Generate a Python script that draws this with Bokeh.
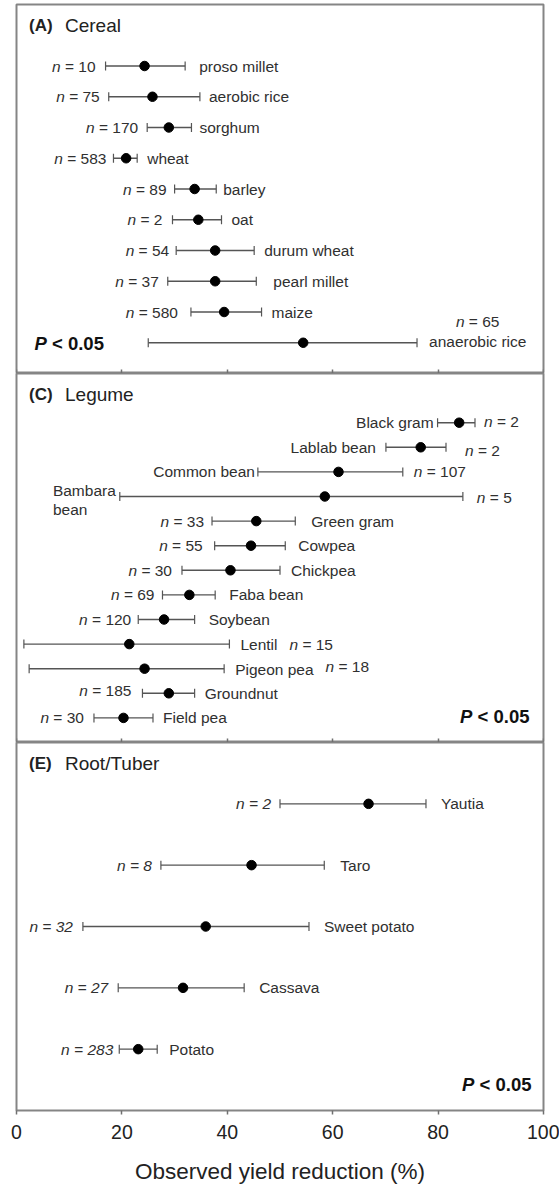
from bokeh.plotting import figure
from bokeh.models import ColumnDataSource, Range1d, Whisker, TeeHead, FixedTicker
from bokeh.layouts import column
from bokeh.core.properties import value
from bokeh.embed import file_html
from bokeh.resources import INLINE

# ---------------- data ----------------
cereal_names = ["proso millet", "aerobic rice", "sorghum", "wheat", "barley", "oat",
                "durum wheat", "pearl millet", "maize", "anaerobic rice"]
cereal_n = [10, 75, 170, 583, 89, 2, 54, 37, 580, 65]
cereal_mean = [24.3, 25.8, 28.9, 20.8, 33.8, 34.5, 37.7, 37.7, 39.4, 54.4]
cereal_low = [16.9, 17.5, 24.8, 18.4, 30.0, 29.6, 30.3, 28.7, 33.1, 25.0]
cereal_high = [32.0, 34.8, 33.2, 22.9, 37.9, 38.9, 45.1, 45.5, 46.5, 76.0]

legume_names = ["Black gram", "Lablab bean", "Common bean", "Bambara bean", "Green gram",
                "Cowpea", "Chickpea", "Faba bean", "Soybean", "Lentil", "Pigeon pea",
                "Groundnut", "Field pea"]
legume_n = [2, 2, 107, 5, 33, 55, 30, 69, 120, 15, 18, 185, 30]
legume_mean = [84.0, 76.7, 61.1, 58.5, 45.5, 44.5, 40.6, 32.8, 28.0, 21.4, 24.3, 28.9, 20.3]
legume_low = [79.9, 70.1, 45.8, 19.6, 37.1, 37.6, 31.4, 27.7, 23.1, 1.4, 2.4, 23.9, 14.7]
legume_high = [87.0, 81.5, 73.3, 84.7, 52.9, 51.0, 50.0, 37.7, 33.8, 40.4, 39.4, 33.8, 25.9]

root_names = ["Yautia", "Taro", "Sweet potato", "Cassava", "Potato"]
root_n = [2, 8, 32, 27, 283]
root_mean = [66.8, 44.6, 35.9, 31.6, 23.1]
root_low = [50.0, 27.4, 12.6, 19.3, 19.5]
root_high = [77.7, 58.4, 55.5, 43.2, 26.7]

x_ticks = [0, 20, 40, 60, 80, 100]
x_title = "Observed yield reduction (%)"
panel_letters = ["(A)", "(C)", "(E)"]
panel_names = ["Cereal", "Legume", "Root/Tuber"]
p_value_text = ("P", "< 0.05")

# ---------------- label layout (side, gap px, dy px) ----------------
cereal_layout = [
    ("right", 14, 0, "left", 10, 0),
    ("right", 9, 0, "left", 9, 0),
    ("right", 8, 0, "left", 9, 0),
    ("right", 10, 0, "left", 7, 0),
    ("right", 7, 0, "left", 8, 0),
    ("right", 10, 0, "left", 10, 0),
    ("right", 10, 0, "left", 7, 0),
    ("right", 17, 0, "left", 9, 0),
    ("right", 10, 0, "left", 13, 0),
    ("right", 12, -1, "above", 0, -21),
]
legume_layout = [
    ("left", 4, 0, "right", 9, -1),
    ("left", 10, 0, "right", 19, 3),
    ("left", 3, 0, "right", 11, 0),
    ("left2", 4, 0, "right", 14, 1),
    ("right", 16, 0, "left", 8, 0),
    ("right", 13, 0, "left", 12, 0),
    ("right", 11, 0, "left", 10, 0),
    ("right", 14, 0, "left", 8, 0),
    ("right", 14, 0, "left", 7, 0),
    ("right", 11, 0, "after", 12, 0),
    ("right", 11, 1, "after", 12, -2),
    ("right", 10, 0, "left", 11, -3),
    ("right", 10, 0, "left", 10, 0),
]
root_layout = [
    ("right", 15, 0, "left", 9, 0),
    ("right", 16, 0, "left", 9, 0),
    ("right", 15, 0, "left", 10, 0),
    ("right", 15, 0, "left", 10, 0),
    ("right", 12, 0, "left", 6, 0),
]

FONT = "Liberation Sans"
LAB_PX = 15.5
TXT = "#303030"
ERR = "#555555"
BORDER = "#858585"

W = dict(a=556, b=556, c=500, d=556, e=556, f=278, g=556, h=556, i=222, j=222, k=500,
         l=222, m=833, n=556, o=556, p=556, q=556, r=333, s=500, t=278, u=556, v=500,
         w=722, x=500, y=500, z=500, A=667, B=667, C=722, D=722, E=667, F=611, G=778,
         H=722, I=278, J=500, K=667, L=556, M=833, N=722, O=778, P=667, Q=778, R=722,
         S=667, T=611, U=722, V=667, W=944, X=667, Y=667, Z=611)
W.update({" ": 278, "=": 584, "<": 584, ".": 278, "(": 333, ")": 333, "/": 278, "%": 889})
for dgt in "0123456789":
    W[dgt] = 556


def tw(s, px=LAB_PX):
    return sum(W.get(ch, 556) for ch in s) * px / 1000.0


xr = Range1d(0, 100)


def make_panel(names, ns, means, lows, highs, layout, y_bottom, y_top, idx,
               n_all_italic, top_border, frame_h, is_bottom, p_pos):
    pos = list(range(len(names)))
    p = figure(frame_width=527, frame_height=frame_h, x_range=xr,
               y_range=Range1d(start=y_bottom, end=y_top),
               output_backend="svg", toolbar_location=None,
               min_border_left=16, min_border_right=16,
               min_border_top=top_border, min_border_bottom=0,
               background_fill_color="white", border_fill_color="white")
    p.outline_line_color = BORDER
    p.outline_line_width = 2
    p.xgrid.visible = False
    p.ygrid.visible = False
    p.yaxis.visible = False

    src = ColumnDataSource(dict(pos=pos, mean=means, low=lows, high=highs))
    p.add_layout(Whisker(source=src, base="pos", lower="low", upper="high",
                         dimension="width", line_color=ERR, line_width=1.4,
                         lower_head=TeeHead(size=9, line_color=ERR, line_width=1.2),
                         upper_head=TeeHead(size=9, line_color=ERR, line_width=1.2)))
    p.scatter("mean", "pos", source=src, size=9.5, color="black")

    lab = dict(x=[], y=[], text=[], xoff=[], yoff=[], align=[], style=[])

    def add(x, y, t, xo, yo, al, st):
        lab["x"].append(x); lab["y"].append(y); lab["text"].append(t)
        lab["xoff"].append(xo); lab["yoff"].append(yo)
        lab["align"].append(al); lab["style"].append(st)

    for i in range(len(names)):
        nm, n, lo, hi = names[i], ns[i], lows[i], highs[i]
        nside, ngap, ndy, cside, cgap, cdy = layout[i]
        # species name
        if nside == "right":
            add(hi, i, nm, ngap, ndy, "left", "normal")
        elif nside == "left":
            add(lo, i, nm, -ngap, ndy, "right", "normal")
        else:  # two-line name on the left
            first, second = nm.split(" ", 1)
            add(lo, i, first, -ngap, ndy - 6.5, "right", "normal")
            add(lo, i, second, -ngap - tw(first), ndy + 12.5, "left", "normal")
        rest = "= %d" % n
        if n_all_italic:
            full = "n = %d" % n
            add(lo, i, full, -cgap, cdy, "right", "italic")
            continue
        if cside == "left":
            add(lo, i, rest, -cgap, cdy, "right", "normal")
            add(lo, i, "n", -cgap - tw(rest) - tw(" "), cdy, "right", "italic")
        else:
            if cside == "right":
                anchor, start = hi, cgap
            elif cside == "after":
                anchor, start = hi, ngap + tw(nm) + cgap
            else:  # above, centred over the name
                anchor = hi
                start = ngap + tw(nm) / 2 - tw("n " + rest) / 2
            add(anchor, i, "n", start, cdy, "left", "italic")
            add(anchor, i, rest, start + tw("n "), cdy, "left", "normal")

    p.text(x="x", y="y", text="text", x_offset="xoff", y_offset="yoff",
           text_align="align", text_font_style="style", text_baseline="middle",
           text_font=value(FONT), text_font_size=value("%.1fpx" % LAB_PX),
           text_color=TXT, source=ColumnDataSource(lab))

    # panel title
    p.text(x=[0], y=[y_top], text=[panel_letters[idx]], x_offset=12.5, y_offset=20.5,
           text_font=value(FONT), text_font_size=value("17px"), text_font_style="bold",
           text_baseline="middle", text_color="#222222")
    p.text(x=[0], y=[y_top], text=[panel_names[idx]], x_offset=48.5, y_offset=20.5,
           text_font=value(FONT), text_font_size=value("19px"),
           text_baseline="middle", text_color="#222222")

    # P < 0.05
    PPX = 18.5
    side, xo, yo = p_pos
    if side == "left":
        p.text(x=[0], y=[y_bottom], text=[p_value_text[0]], x_offset=xo, y_offset=yo,
               text_font=value(FONT), text_font_size=value("%.1fpx" % PPX),
               text_font_style="bold italic", text_baseline="middle", text_color="#111111")
        p.text(x=[0], y=[y_bottom], text=[p_value_text[1]],
               x_offset=xo + tw(p_value_text[0] + " ", PPX), y_offset=yo,
               text_font=value(FONT), text_font_size=value("%.1fpx" % PPX),
               text_font_style="bold", text_baseline="middle", text_color="#111111")
    else:
        p.text(x=[100], y=[y_bottom], text=[p_value_text[1]], x_offset=xo, y_offset=yo,
               text_align="right",
               text_font=value(FONT), text_font_size=value("%.1fpx" % PPX),
               text_font_style="bold", text_baseline="middle", text_color="#111111")
        p.text(x=[100], y=[y_bottom], text=[p_value_text[0]],
               x_offset=xo - tw(" " + p_value_text[1], PPX), y_offset=yo,
               text_align="right",
               text_font=value(FONT), text_font_size=value("%.1fpx" % PPX),
               text_font_style="bold italic", text_baseline="middle", text_color="#111111")

    ax = p.xaxis[0]
    ax.ticker = FixedTicker(ticks=x_ticks)
    ax.minor_tick_line_color = None
    ax.axis_line_color = None
    ax.major_tick_line_color = "#707070"
    ax.major_tick_line_width = 1.5
    if not is_bottom:
        ax.fixed_location = y_bottom
        ax.major_tick_in = 4
        ax.major_tick_out = 0
        ax.major_label_overrides = {t: "" for t in x_ticks}
        ax.major_label_text_alpha = 0
    else:
        ax.major_tick_in = 0
        ax.major_tick_out = 4
        ax.major_label_standoff = 10
        ax.major_label_text_font = FONT
        ax.major_label_text_font_size = "19.5px"
        ax.major_label_text_color = "#222222"
        ax.axis_label = x_title
        ax.axis_label_standoff = 17
        ax.axis_label_text_font = FONT
        ax.axis_label_text_font_size = "22.5px"
        ax.axis_label_text_font_style = "normal"
        ax.axis_label_text_color = "#222222"
    return p


p1 = make_panel(cereal_names, cereal_n, cereal_mean, cereal_low, cereal_high, cereal_layout,
                10, -2, 0, False, 4, 369, False, ("left", 18, -30))
p2 = make_panel(legume_names, legume_n, legume_mean, legume_low, legume_high, legume_layout,
                13, -2, 1, False, 0, 369, False, ("right", -14, -26))
p3 = make_panel(root_names, root_n, root_mean, root_low, root_high, root_layout,
                5, -1, 2, True, 0, 368, True, ("right", -12, -26))

layout = column(p1, p2, p3, spacing=0)
open("out.html", "w").write(file_html(layout, INLINE))
